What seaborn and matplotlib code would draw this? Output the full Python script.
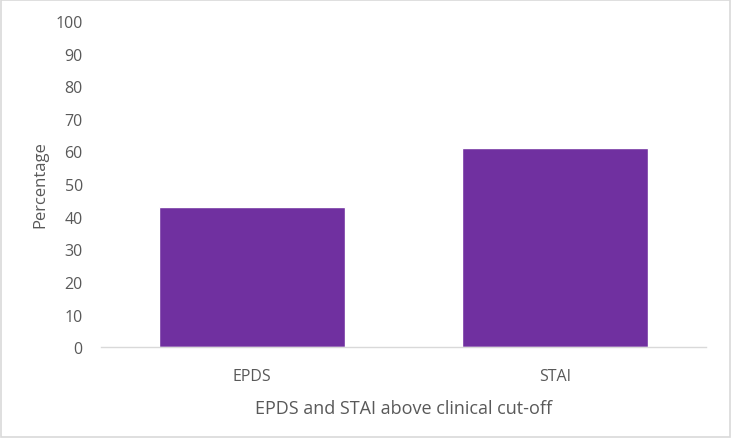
import matplotlib
matplotlib.use("Agg")
import matplotlib.pyplot as plt
import seaborn as sns
import pandas as pd
from matplotlib.patches import Rectangle

categories = ["EPDS", "STAI"]
percentages = [43, 61]

sns.set_style("white")
plt.rcParams["font.family"] = ["Open Sans", "DejaVu Sans"]

df = pd.DataFrame({"Measure": categories, "Percentage": percentages})

fig = plt.figure(figsize=(7.31, 4.39), dpi=100)
ax = fig.add_axes([0.138, 0.207, 0.828, 0.743])

sns.barplot(data=df, x="Measure", y="Percentage", color="#7030A0",
            saturation=1, width=0.615, ax=ax)

ax.set_ylim(0, 100)
ax.set_xlim(-0.5, 1.5)
ax.set_yticks(range(0, 101, 10))

grey = "#595959"
ax.tick_params(axis="both", length=0, colors=grey, labelsize=11.5)
ax.tick_params(axis="x", pad=15)
ax.tick_params(axis="y", pad=13)
for s in ["top", "right", "left"]:
    ax.spines[s].set_visible(False)
ax.spines["bottom"].set_color("#d9d9d9")
ax.spines["bottom"].set_linewidth(1)

ax.set_xlabel("EPDS and STAI above clinical cut-off", color=grey, fontsize=13, labelpad=11)
ax.set_ylabel("Percentage", color=grey, fontsize=12, labelpad=5)

fig.patches.append(Rectangle((0.002, 0.003), 0.996, 0.994, transform=fig.transFigure,
                             fill=False, edgecolor="#d9d9d9", linewidth=1.2))

fig.savefig("out.png", dpi=100)
